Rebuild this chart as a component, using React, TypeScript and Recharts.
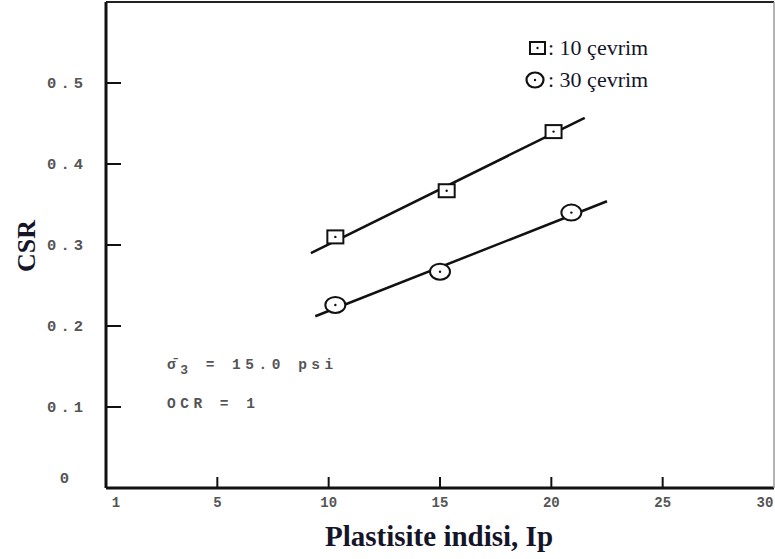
import {
  ComposedChart,
  Scatter,
  XAxis,
  YAxis,
  Label,
  Legend,
} from "recharts";

const X_TICKS = [0, 5, 10, 15, 20, 25, 30];
const X_TICK_LABELS = ["1", "5", "10", "15", "20", "25", "30"];
const Y_TICKS = [0, 0.1, 0.2, 0.3, 0.4, 0.5, 0.6];
const Y_TICK_LABELS = ["0", "0.1", "0.2", "0.3", "0.4", "0.5", ""];

// 10 çevrim
const IP_10 = [10.3, 15.3, 20.1];
const CSR_10 = [0.31, 0.367, 0.44];
// 30 çevrim
const IP_30 = [10.3, 15.0, 20.9];
const CSR_30 = [0.226, 0.267, 0.34];

// trend lines (hand drawn in the original)
const FIT_10_IP = [9.2, 21.5];
const FIT_10_CSR = [0.29, 0.457];
const FIT_30_IP = [9.4, 22.5];
const FIT_30_CSR = [0.212, 0.354];

const toPoints = (xs: number[], ys: number[]) =>
  xs.map((x, i) => ({ x, y: ys[i] }));

const pts10 = toPoints(IP_10, CSR_10);
const pts30 = toPoints(IP_30, CSR_30);
const fit10 = toPoints(FIT_10_IP, FIT_10_CSR);
const fit30 = toPoints(FIT_30_IP, FIT_30_CSR);

const mono = "'Liberation Mono', 'DejaVu Sans Mono', monospace";
const serif = "'Liberation Serif', 'DejaVu Serif', serif";
const ink = "#15152a";

function SquareMark(props: any) {
  const { cx, cy } = props;
  return (
    <g>
      <rect x={cx - 8} y={cy - 6.5} width={16} height={13} fill="#fff" stroke="#111" strokeWidth={2} />
      <circle cx={cx} cy={cy} r={1.2} fill="#111" />
    </g>
  );
}

function CircleMark(props: any) {
  const { cx, cy } = props;
  return (
    <g>
      <ellipse cx={cx} cy={cy} rx={10} ry={8} fill="#fff" stroke="#111" strokeWidth={2} />
      <circle cx={cx} cy={cy} r={1.2} fill="#111" />
    </g>
  );
}

function BottomTick(props: any) {
  const { x, y, payload, index } = props;
  const v = payload.value;
  let tx = x;
  if (v === 0) tx = x + 10;
  if (v === 30) tx = x - 9;
  return (
    <g>
      {v > 0 && v < 30 && (
        <line x1={x} y1={y} x2={x} y2={y - 11} stroke="#111" strokeWidth={2} />
      )}
      <text
        x={tx}
        y={y + 19}
        textAnchor="middle"
        fontFamily={mono}
        fontSize={14}
        fontWeight={700}
        fill="#555"
      >
        {X_TICK_LABELS[index]}
      </text>
    </g>
  );
}

function TopTick(props: any) {
  const { x, y, payload } = props;
  const v = payload.value;
  if (v <= 0 || v >= 30) return <g />;
  return <line x1={x} y1={y} x2={x} y2={y + 10} stroke="#222" strokeWidth={2} />;
}

function LeftTick(props: any) {
  const { x, y, payload, index } = props;
  const v = payload.value;
  const isZero = v === 0;
  return (
    <g>
      {v > 0 && v < 0.6 && (
        <line x1={x} y1={y} x2={x + 15} y2={y} stroke="#111" strokeWidth={2} />
      )}
      <text
        x={isZero ? x - 33 : x - 19}
        y={isZero ? y - 5 : y + 5}
        textAnchor="end"
        fontFamily={mono}
        fontSize={15.5}
        fontWeight={700}
        letterSpacing={4}
        fill="#555"
      >
        {Y_TICK_LABELS[index]}
      </text>
    </g>
  );
}

function RightTick(props: any) {
  const { x, y, payload } = props;
  const v = payload.value;
  if (v <= 0 || v >= 0.6) return <g />;
  return <line x1={x} y1={y} x2={x - 10} y2={y} stroke="#333" strokeWidth={2} />;
}

function LegendBox() {
  const row = { display: "flex", alignItems: "center", height: 32 } as const;
  const txt = { fontFamily: serif, fontSize: 22, color: ink, marginLeft: 2 };
  return (
    <div>
      <div style={row}>
        <svg width={24} height={20}>
          <rect x={8} y={4} width={15} height={12} fill="#fff" stroke="#111" strokeWidth={2} />
          <circle cx={15.5} cy={10} r={1.2} fill="#111" />
        </svg>
        <span style={txt}>: 10 çevrim</span>
      </div>
      <div style={row}>
        <svg width={24} height={20}>
          <ellipse cx={13} cy={10} rx={8.5} ry={7.5} fill="#fff" stroke="#111" strokeWidth={2.2} />
          <circle cx={13} cy={10} r={1.2} fill="#111" />
        </svg>
        <span style={txt}>: 30 çevrim</span>
      </div>
    </div>
  );
}

export default function App() {
  return (
    <div
      style={{
        position: "absolute",
        left: 0,
        top: 0,
        width: 775,
        height: 559,
        background: "#fff",
      }}
    >
      <ComposedChart
        width={775}
        height={559}
        margin={{ top: 1, right: 0, left: 0, bottom: 0 }}
      >
        <XAxis
          xAxisId="b"
          type="number"
          dataKey="x"
          domain={[0, 30]}
          ticks={X_TICKS}
          interval={0}
          height={71}
          tickSize={0}
          tickMargin={0}
          axisLine={{ stroke: "#111", strokeWidth: 3 }}
          tick={BottomTick}
        >
          <Label
            content={(p: any) => {
              const vb = p.viewBox;
              return (
                <text
                  x={vb.x + vb.width / 2 - 1}
                  y={546}
                  textAnchor="middle"
                  fontFamily={serif}
                  fontWeight={700}
                  fontSize={29}
                  fill={ink}
                >
                  Plastisite indisi, Ip
                </text>
              );
            }}
          />
        </XAxis>
        <XAxis
          xAxisId="t"
          orientation="top"
          type="number"
          dataKey="x"
          domain={[0, 30]}
          ticks={X_TICKS}
          interval={0}
          height={1}
          tickSize={0}
          tickMargin={0}
          axisLine={{ stroke: "#222", strokeWidth: 2 }}
          tick={TopTick}
        />
        <YAxis
          yAxisId="l"
          type="number"
          dataKey="y"
          domain={[0, 0.6]}
          ticks={Y_TICKS}
          interval={0}
          width={106}
          tickSize={0}
          tickMargin={0}
          axisLine={{ stroke: "#111", strokeWidth: 3 }}
          tick={LeftTick}
        >
          <Label
            content={() => (
              <text
                x={35}
                y={246}
                transform="rotate(-90 35 246)"
                textAnchor="middle"
                fontFamily={serif}
                fontWeight={700}
                fontSize={26}
                fill={ink}
              >
                CSR
              </text>
            )}
          />
        </YAxis>
        <YAxis
          yAxisId="r"
          orientation="right"
          type="number"
          dataKey="y"
          domain={[0, 0.6]}
          ticks={Y_TICKS}
          interval={0}
          width={1}
          tickSize={0}
          tickMargin={0}
          axisLine={{ stroke: "#999", strokeWidth: 1.5 }}
          tick={RightTick}
        />
        <Legend
          layout="vertical"
          align="center"
          verticalAlign="middle"
          wrapperStyle={{ position: "absolute", left: 522, top: 32, width: 170 }}
          content={() => <LegendBox />}
        />
        <Scatter
          xAxisId="b"
          yAxisId="l"
          data={fit10}
          line={{ stroke: "#111", strokeWidth: 2.5 }}
          shape={() => <g />}
          isAnimationActive={false}
        />
        <Scatter
          xAxisId="b"
          yAxisId="l"
          data={fit30}
          line={{ stroke: "#111", strokeWidth: 2.5 }}
          shape={() => <g />}
          isAnimationActive={false}
        />
        <Scatter
          xAxisId="b"
          yAxisId="l"
          data={pts10}
          shape={SquareMark}
          isAnimationActive={false}
        />
        <Scatter
          xAxisId="b"
          yAxisId="l"
          data={pts30}
          shape={CircleMark}
          isAnimationActive={false}
        />
      </ComposedChart>
      <div
        style={{
          position: "absolute",
          left: 167,
          top: 357,
          fontFamily: mono,
          fontSize: 14.5,
          letterSpacing: 4.5,
          color: "#555",
          fontWeight: 700,
          whiteSpace: "nowrap",
          lineHeight: "17px",
        }}
      >
        <div>
          σ̄<sub style={{ fontSize: 13, verticalAlign: -5 }}>3</sub> = 15.0 psi
        </div>
        <div style={{ marginTop: 17 }}>OCR = 1</div>
      </div>
    </div>
  );
}
